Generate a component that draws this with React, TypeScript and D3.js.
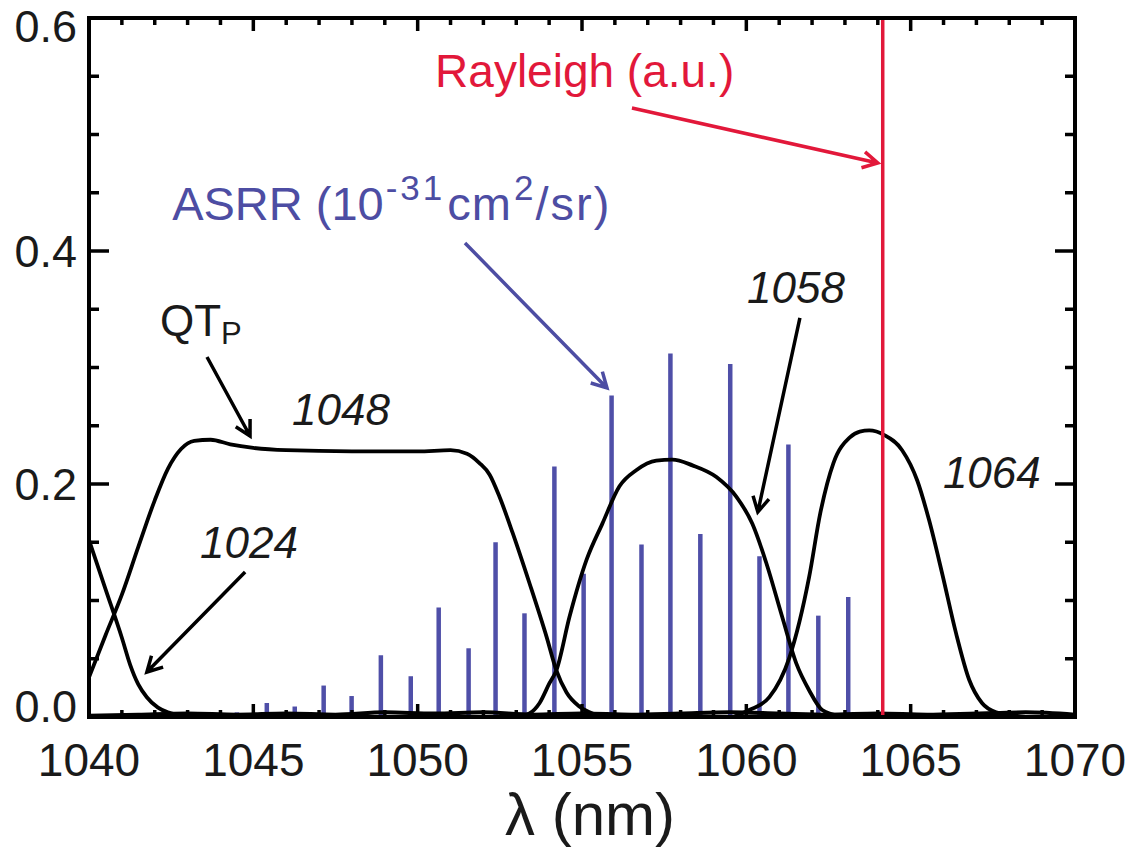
import React from 'react';
import * as d3 from 'd3';

// ---------- data ----------
const xMajorTicks = [1040, 1045, 1050, 1055, 1060, 1065, 1070];
const xTickLabels = ['1040', '1045', '1050', '1055', '1060', '1065', '1070'];
const yMajorTicks = [0, 0.2, 0.4, 0.6];
const yTickLabels = ['0.0', '0.2', '0.4', '0.6'];

// ASRR lines (wavelength nm, value 1e-31 cm^2/sr)
const asrrWavelengths = [
  1041.0, 1041.88, 1042.77, 1043.68, 1044.5, 1045.41, 1046.26, 1047.14, 1047.99, 1048.88,
  1049.79, 1050.64, 1051.55, 1052.37, 1053.25, 1054.16, 1055.05, 1055.9, 1056.81, 1057.69,
  1058.6, 1059.51, 1060.4, 1061.28, 1062.19, 1063.1,
];
const asrrValues = [
  0.001, 0.001, 0.002, 0.004, 0.004, 0.012, 0.009, 0.027, 0.018, 0.053,
  0.035, 0.094, 0.059, 0.15, 0.089, 0.215, 0.123, 0.276, 0.148, 0.312,
  0.157, 0.303, 0.138, 0.234, 0.087, 0.103,
];

// Filter transmission curves QT_P: [wavelength, value]
const filter1024: [number, number][] = [
  [1040.0, 0.152], [1040.5, 0.11], [1041.0, 0.068], [1041.25, 0.045], [1041.5, 0.028],
  [1041.76, 0.017], [1042.1, 0.008], [1042.4, 0.004], [1042.9, 0.001], [1043.5, 0.0],
];
const filter1048: [number, number][] = [
  [1040.0, 0.034], [1040.5, 0.07], [1041.0, 0.105], [1041.5, 0.146], [1042.0, 0.186],
  [1042.4, 0.213], [1042.8, 0.23], [1043.2, 0.237], [1043.7, 0.238], [1044.3, 0.234],
  [1045.0, 0.231], [1046.0, 0.229], [1048.0, 0.228], [1050.0, 0.228], [1051.0, 0.229],
  [1051.5, 0.226], [1051.88, 0.218], [1052.19, 0.208], [1052.49, 0.189], [1052.89, 0.158],
  [1053.4, 0.115], [1053.92, 0.069], [1054.22, 0.04], [1054.53, 0.021], [1054.92, 0.009],
  [1055.32, 0.003], [1055.8, 0.0],
];
const filter1058: [number, number][] = [
  [1053.0, 0.0], [1053.4, 0.003], [1053.71, 0.012], [1054.01, 0.029], [1054.22, 0.04],
  [1054.62, 0.086], [1055.14, 0.135], [1055.62, 0.166], [1056.14, 0.198], [1056.66, 0.212],
  [1057.26, 0.22], [1057.75, 0.221], [1058.36, 0.216], [1059.09, 0.206], [1059.7, 0.189],
  [1060.18, 0.166], [1060.61, 0.132], [1061.09, 0.086], [1061.52, 0.046], [1061.91, 0.023],
  [1062.31, 0.006], [1062.83, 0.001], [1063.3, 0.0],
];
const filter1064: [number, number][] = [
  [1059.6, 0.0], [1060.09, 0.006], [1060.7, 0.017], [1061.31, 0.051], [1061.91, 0.12],
  [1062.25, 0.175], [1062.65, 0.218], [1063.15, 0.24], [1063.45, 0.245], [1063.74, 0.246],
  [1064.2, 0.242], [1064.74, 0.229], [1065.2, 0.203], [1065.56, 0.169], [1065.96, 0.123],
  [1066.38, 0.072], [1066.78, 0.032], [1067.17, 0.012], [1067.6, 0.004], [1068.0, 0.002],
  [1068.5, 0.0],
];
const baselineNoise: [number, number][] = [
  [1040, 0.001], [1041.5, 0.002], [1043, 0.003], [1044.5, 0.002], [1046, 0.003],
  [1047.5, 0.002], [1049, 0.004], [1050.5, 0.003], [1052, 0.004], [1053.5, 0.002],
  [1055, 0.003], [1056.5, 0.002], [1058, 0.003], [1059.5, 0.004], [1061, 0.003],
  [1062.5, 0.002], [1064, 0.003], [1065.5, 0.002], [1067, 0.003], [1068.5, 0.004], [1070, 0.002],
];
const rayleighWavelength = 1064.15;

// annotations in data units
const arrows = [
  { from: [1056.52, 0.5227], to: [1064.0, 0.4755], color: '#e2183a' },
  { from: [1051.44, 0.4069], to: [1055.76, 0.2824], color: '#4d4da3' },
  { from: [1043.59, 0.309], to: [1044.9, 0.2412], color: '#000' },
  { from: [1044.75, 0.1245], to: [1041.76, 0.0386], color: '#000' },
  { from: [1061.63, 0.3425], to: [1060.35, 0.176], color: '#000' },
];
const italicLabels = [
  { text: '1048', at: [1046.18, 0.2505] },
  { text: '1024', at: [1043.38, 0.1365] },
  { text: '1058', at: [1060.02, 0.3554] },
  { text: '1064', at: [1065.98, 0.1966] },
];

export default function App() {
  const W = 1134;
  const H = 848;
  const x = d3.scaleLinear().domain([1040, 1070]).range([89, 1075]);
  const y = d3.scaleLinear().domain([0, 0.6]).range([717, 18]);
  const line = d3
    .line<[number, number]>()
    .x((d) => x(d[0]))
    .y((d) => y(d[1]))
    .curve(d3.curveMonotoneX);

  const font = "'Liberation Sans', Arial, Helvetica, sans-serif";
  const xMinor = d3.range(1040, 1071, 1);
  const yMinor = d3.range(0, 0.6001, 0.05);
  const [x0, x1] = x.range();
  const [yb, yt] = y.range();

  const arrowPath = (a: any) => {
    const fx = x(a.from[0]), fy = y(a.from[1]);
    const tx = x(a.to[0]), ty = y(a.to[1]);
    const ang = Math.atan2(ty - fy, tx - fx);
    const L = 17, sp = 0.5;
    const p1 = [tx - L * Math.cos(ang - sp), ty - L * Math.sin(ang - sp)];
    const p2 = [tx - L * Math.cos(ang + sp), ty - L * Math.sin(ang + sp)];
    return `M${fx},${fy}L${tx},${ty}M${p1[0]},${p1[1]}L${tx},${ty}L${p2[0]},${p2[1]}`;
  };

  return (
    <svg
      width={W}
      height={H}
      style={{ position: 'absolute', left: 0, top: 0, background: '#fff' }}
      fontFamily={font}
    >
      <defs>
        <clipPath id="plot">
          <rect x={x0} y={yt} width={x1 - x0} height={yb - yt} />
        </clipPath>
      </defs>

      {/* data */}
      <g clipPath="url(#plot)">
        {asrrWavelengths.map((w, i) => (
          <line
            key={'b' + i}
            x1={x(w)}
            x2={x(w)}
            y1={y(0)}
            y2={y(asrrValues[i])}
            stroke="#4f4fa8"
            strokeWidth={4.5}
          />
        ))}
        <path d={line(baselineNoise) || ''} fill="none" stroke="#000" strokeWidth={4} />
        {[filter1024, filter1048, filter1058, filter1064].map((f, i) => (
          <path key={'f' + i} d={line(f) || ''} fill="none" stroke="#000" strokeWidth={3.8} strokeLinejoin="round" />
        ))}
        <line
          x1={x(rayleighWavelength)}
          x2={x(rayleighWavelength)}
          y1={y(0)}
          y2={y(0.6)}
          stroke="#e2183a"
          strokeWidth={3.5}
        />
      </g>

      {/* axes box */}
      <rect x={x0} y={yt} width={x1 - x0} height={yb - yt} fill="none" stroke="#000" strokeWidth={4} />
      {/* x ticks bottom & top */}
      {xMinor.map((v) => {
        const major = v % 5 === 0;
        const len = major ? 13 : 7;
        return (
          <g key={'xt' + v}>
            <line x1={x(v)} x2={x(v)} y1={yb} y2={yb - len} stroke="#000" strokeWidth={3.5} />
            <line x1={x(v)} x2={x(v)} y1={yt} y2={yt + len} stroke="#000" strokeWidth={3.5} />
          </g>
        );
      })}
      {/* y ticks left & right */}
      {yMinor.map((v, i) => {
        const major = i % 4 === 0;
        const len = major ? 20 : 10;
        return (
          <g key={'yt' + i}>
            <line x1={x0} x2={x0 + len} y1={y(v)} y2={y(v)} stroke="#000" strokeWidth={3.5} />
            <line x1={x1} x2={x1 - len} y1={y(v)} y2={y(v)} stroke="#000" strokeWidth={3.5} />
          </g>
        );
      })}

      {/* tick labels */}
      {xMajorTicks.map((v, i) => (
        <text key={'xl' + v} x={x(v)} y={yb + 59} textAnchor="middle" fontSize={46} fill="#1a1a1a">
          {xTickLabels[i]}
        </text>
      ))}
      {yMajorTicks.map((v, i) => (
        <text
          key={'yl' + v}
          x={x0 - 12}
          y={Math.min(Math.max(y(v), 26), 706)}
          dy="0.36em"
          textAnchor="end"
          fontSize={45}
          fill="#1a1a1a"
        >
          {yTickLabels[i]}
        </text>
      ))}
      <text x={(x0 + x1) / 2 + 8} y={835} textAnchor="middle" fontSize={60} fill="#1a1a1a">
        λ (nm)
      </text>

      {/* arrows */}
      {arrows.map((a, i) => (
        <path key={'a' + i} d={arrowPath(a)} fill="none" stroke={a.color} strokeWidth={3.5} strokeLinecap="butt" strokeLinejoin="miter" />
      ))}

      {/* annotation texts */}
      <text x={x(1050.53)} y={y(0.5408)} fontSize={46} fill="#e2183a">
        Rayleigh (a.u.)
      </text>
      <text x={x(1042.53)} y={y(0.4266)} fontSize={47} fill="#4d4da3">
        <tspan>ASRR (10</tspan>
        <tspan dx={2} dy={-20} fontSize={35} letterSpacing={3}>-31</tspan>
        <tspan dx={2} dy={20} fontSize={47} letterSpacing={1}>cm</tspan>
        <tspan dx={2} dy={-20} fontSize={35}>2</tspan>
        <tspan dx={2} dy={20} fontSize={47} letterSpacing={2}>/sr)</tspan>
      </text>
      <text x={x(1042.16)} y={y(0.327)} fontSize={44} fill="#1a1a1a">
        QT
        <tspan dy={8} fontSize={31}>P</tspan>
      </text>
      {italicLabels.map((l) => (
        <text key={l.text} x={x(l.at[0])} y={y(l.at[1])} fontSize={44} fontStyle="italic" fill="#1a1a1a">
          {l.text}
        </text>
      ))}
    </svg>
  );
}
